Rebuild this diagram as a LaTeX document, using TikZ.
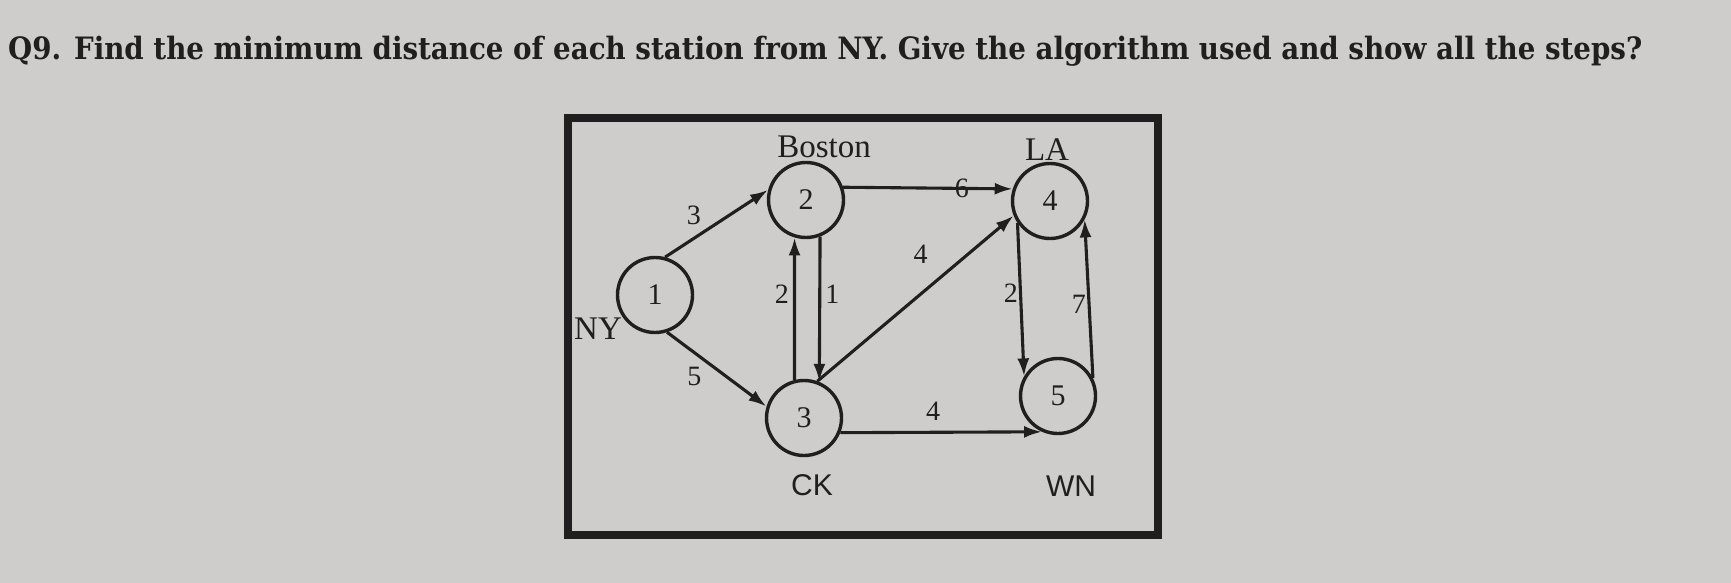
\documentclass[tikz,border=0pt]{standalone}
\usepackage{fontspec}
\setmainfont{Liberation Serif}
\newfontfamily\titlefont{DejaVu Serif Condensed}
\newfontfamily\labelsans{Liberation Sans}
\usetikzlibrary{arrows.meta}
\definecolor{paper}{RGB}{206,205,203}
\definecolor{ink}{RGB}{32,30,30}

\begin{document}
\begin{tikzpicture}[x=1pt,y=-1pt,
   station/.style={draw=ink,circle,line width=3.4pt,minimum size=75pt,inner sep=0pt,
      text=ink,font=\fontsize{30}{30}\selectfont},
   road/.style={draw=ink,line width=3.1pt,-{Latex[length=18pt,width=12pt]}},
   dist/.style={text=ink,inner sep=4pt,font=\fontsize{28}{28}\selectfont},
   city/.style={text=ink,inner sep=2pt,font=\fontsize{33}{33}\selectfont},
   citysans/.style={text=ink,inner sep=2pt,font=\labelsans\fontsize{30}{30}\selectfont}]
\fill[paper] (0,0) rectangle (1731,583);
\useasboundingbox (0,0) rectangle (1731,583);
\node[anchor=base west,inner sep=0pt,text=ink,font=\titlefont\bfseries\fontsize{30.8}{31}\selectfont] (question) at (8,60)
	{Q9. Find the minimum distance of each station from NY. Give the algorithm used and show all the steps?};
\draw[ink,line width=8pt] (568,118) rectangle (1158,535);
\node[station] (ny) at (655,295) {1};
\node[station] (boston) at (806,200) {2};
\node[station] (ck) at (804,418) {3};
\node[station] (la) at (1050,201) {4};
\node[station] (wn) at (1058,396) {5};
\node[city] (nyname) at (598,329) {NY};
\node[city] (bostonname) at (824,147) {Boston};
\node[city] (laname) at (1047,150) {LA};
\node[citysans] (ckname) at (812,485) {CK};
\node[citysans] (wnname) at (1071,486) {WN};
\draw[road] (ny.75) -- node[dist,auto=left,pos=0.4] {3} (boston.165);
\draw[road] (ny.-72) -- node[dist,auto=right,pos=0.4] {5} (ck.163);
\draw[road] (boston.19) -- node[dist,pos=0.7] {6} (la.162);
\draw[road] (ck.104) -- node[dist,auto=left,pos=0.6] {2} (boston.-107);
\draw[road] (boston.-69) -- node[dist,auto=left,pos=0.4] {1} (ck.67);
\draw[road] (ck.70) -- node[dist,auto=left,pos=0.63,inner sep=12pt] {4} (la.202);
\draw[road] (ck.-22) -- node[dist,auto=left,pos=0.46,inner sep=10pt] {4} (wn.-114);
\draw[road] (la.214) -- node[dist,auto=right,pos=0.46,inner sep=1pt] {2} (wn.150);
\draw[road] (wn.27) -- node[dist,auto=left,pos=0.54,inner sep=1pt] {7} (la.-28);
\end{tikzpicture}
\end{document}
